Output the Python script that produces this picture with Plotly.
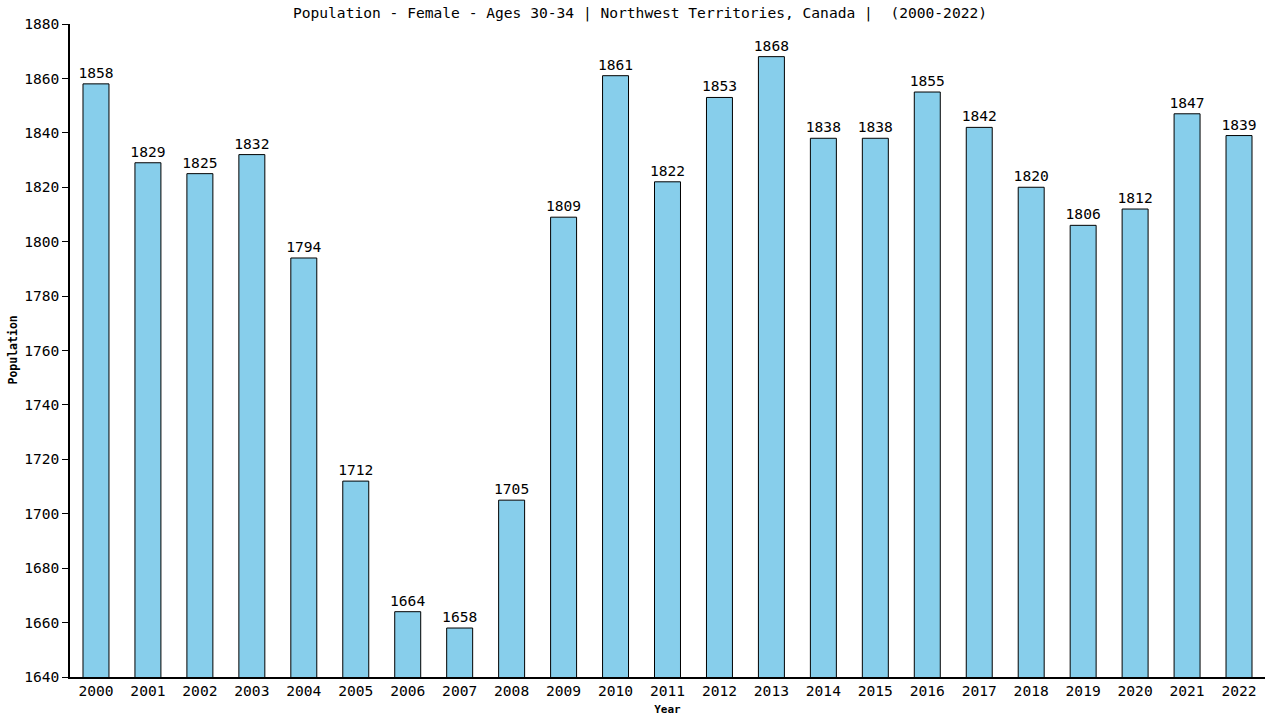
import plotly.graph_objects as go

years = [str(y) for y in range(2000, 2023)]
population = [1858, 1829, 1825, 1832, 1794, 1712, 1664, 1658, 1705, 1809, 1861, 1822,
              1853, 1868, 1838, 1838, 1855, 1842, 1820, 1806, 1812, 1847, 1839]
y_ticks = list(range(1640, 1881, 20))

font_mono = "DejaVu Sans Mono, Courier New, monospace"

fig = go.Figure()
fig.add_trace(go.Bar(
    x=years, y=population,
    marker=dict(color="#87CEEB", line=dict(color="black", width=1)),
    text=[str(v) for v in population],
    textposition="outside",
    constraintext="none",
    textfont=dict(family=font_mono, size=14.6, color="black"),
    cliponaxis=False,
))

fig.update_layout(
    width=1280, height=720,
    paper_bgcolor="white", plot_bgcolor="white",
    margin=dict(l=70, r=15, t=24, b=43, autoexpand=False),
    bargap=0.5,
    showlegend=False,
    font=dict(family=font_mono, color="black"),
    title=dict(
        text="Population - Female - Ages 30-34 | Northwest Territories, Canada |  (2000-2022)",
        x=0.5, xanchor="center", y=1 - 13 / 720, yanchor="middle",
        font=dict(family=font_mono, size=14.6, color="black"),
    ),
    xaxis=dict(
        title=dict(text="<b>Year</b>", font=dict(size=11), standoff=7),
        showline=True, linecolor="black", linewidth=1.5,
        ticks="", tickfont=dict(size=14.6), showgrid=False,
        automargin=False,
    ),
    yaxis=dict(
        range=[1640, 1880], tickvals=y_ticks,
        showline=True, linecolor="black", linewidth=1.5,
        ticks="outside", ticklen=6, tickcolor="black",
        tickfont=dict(size=14.6), showgrid=False, zeroline=False,
        automargin=False,
    ),
)

# y-axis title placed by hand (standoff is ignored without automargin)
fig.add_annotation(
    text="<b>Population</b>", textangle=-90,
    xref="paper", yref="paper", x=-58 / 1195, y=0.5,
    xanchor="center", yanchor="middle", showarrow=False,
    font=dict(family=font_mono, size=11.5, color="black"),
)

# drop the default 8px body margin so the figure fills the window exactly
fig.write_html("out.html", config={"displayModeBar": False},
               post_script="document.body.style.margin='0';")
